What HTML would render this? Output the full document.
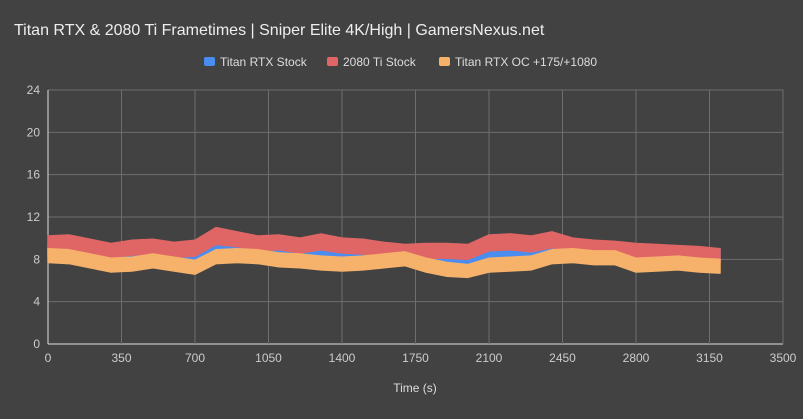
<!DOCTYPE html>
<html><head><meta charset="utf-8"><style>
body{margin:0;background:#424242;}
svg{display:block;font-family:"Liberation Sans",sans-serif;}
</style></head><body>
<svg id="chart" width="803" height="419">
<rect width="803" height="419" fill="#424242"/>
<text x="14" y="35" font-size="16" fill="#eeeeee">Titan RTX &amp; 2080 Ti Frametimes | Sniper Elite 4K/High | GamersNexus.net</text>
<g>
<g><rect x="204" y="57" width="11" height="9" rx="2" fill="#4a8df0"/><text x="220" y="66" font-size="12" fill="#dddddd">Titan RTX Stock</text></g>
<g><rect x="327" y="57" width="11" height="9" rx="2" fill="#e06666"/><text x="343" y="66" font-size="12" fill="#dddddd">2080 Ti Stock</text></g>
<g><rect x="439" y="57" width="11" height="9" rx="2" fill="#f6b26b"/><text x="455" y="66" font-size="12" fill="#dddddd">Titan RTX OC +175/+1080</text></g>
</g>
<g id="grid"></g><g id="marks"></g><g id="axes"></g>
<text x="415" y="392" font-size="12" fill="#dddddd" text-anchor="middle">Time (s)</text>
</svg>
<script>
const times=[0,100,200,300,400,500,600,700,800,900,1000,1100,1200,1300,1400,1500,1600,1700,1800,1900,2000,2100,2200,2300,2400,2500,2600,2700,2800,2900,3000,3100,3200];
const redHi=[10.2,10.3,9.9,9.5,9.8,9.9,9.6,9.8,11.0,10.6,10.2,10.3,10.0,10.4,10.0,9.9,9.6,9.4,9.5,9.5,9.4,10.3,10.4,10.2,10.6,10.0,9.8,9.7,9.5,9.4,9.3,9.2,9.0];
const redLo=[8.8,8.9,8.5,8.2,8.4,8.5,8.2,8.3,9.4,9.2,8.8,8.9,8.6,8.9,8.6,8.5,8.2,8.0,8.1,8.1,8.0,8.8,8.9,8.7,9.1,8.6,8.4,8.3,8.1,8.0,7.9,7.9,7.7];
const blueHi=[9.6,9.7,9.3,9.0,9.2,9.3,9.0,9.2,10.2,9.9,9.6,9.6,9.4,9.8,9.5,9.3,9.0,8.9,8.9,8.9,8.8,9.5,9.6,9.5,10.5,9.6,9.3,9.2,9.0,9.0,9.0,9.1,9.0];
const blueLo=[8.3,8.4,8.1,7.8,7.9,8.1,7.8,7.8,8.6,8.6,8.4,8.3,8.2,8.3,8.2,8.1,7.9,7.8,7.7,7.6,7.5,8.1,8.2,8.2,8.7,8.3,8.0,7.9,7.8,7.9,8.0,8.0,7.9];
const orangeHi=[9.0,8.9,8.5,8.1,8.2,8.5,8.2,7.9,8.9,9.0,8.9,8.6,8.5,8.3,8.2,8.3,8.5,8.7,8.1,7.7,7.5,8.1,8.2,8.3,8.9,9.0,8.8,8.8,8.1,8.2,8.3,8.1,8.0];
const orangeLo=[7.7,7.6,7.2,6.8,6.9,7.2,6.9,6.6,7.6,7.7,7.6,7.3,7.2,7.0,6.9,7.0,7.2,7.4,6.8,6.4,6.3,6.8,6.9,7.0,7.6,7.7,7.5,7.5,6.8,6.9,7.0,6.8,6.7];
const xTicks=[0,350,700,1050,1400,1750,2100,2450,2800,3150,3500];
const yTicks=[0,4,8,12,16,20,24];
const X0=48,X1=783,Y0=344,Y1=90;
const xs=v=>X0+(v/3500)*(X1-X0);
const ys=v=>Y0-(v/24)*(Y0-Y1);
const NS="http://www.w3.org/2000/svg";
const grid=document.getElementById('grid'),axes=document.getElementById('axes'),marks=document.getElementById('marks');
function mk(tag,attrs,parent){const e=document.createElementNS(NS,tag);for(const k in attrs)e.setAttribute(k,attrs[k]);parent.appendChild(e);return e;}
yTicks.forEach(t=>{
 const l=mk('line',{x1:X0,x2:X1,y1:ys(t),y2:ys(t),stroke:t===0?'#dddddd':'#6e6e6e','stroke-width':1},grid);
 
 
 const tx=mk('text',{x:X0-8,y:ys(t)+4,'font-size':12,fill:'#cccccc','text-anchor':'end'},axes);
 tx.textContent=t;
 
 
});
xTicks.forEach(t=>{
 const l=mk('line',{x1:xs(t),x2:xs(t),y1:Y1,y2:Y0,stroke:t===0?'#dddddd':'#6e6e6e','stroke-width':1},grid);
 
 
 const tx=mk('text',{x:xs(t),y:Y0+18,'font-size':12,fill:'#cccccc','text-anchor':'middle'},axes);
 tx.textContent=t;
 
 
});
function band(hi,lo,color,name){
 let pts=[];
 times.forEach((t,i)=>pts.push(xs(t)+','+ys(hi[i])));
 for(let i=times.length-1;i>=0;i--)pts.push(xs(times[i])+','+ys(lo[i]));
 const p=mk('polygon',{points:pts.join(' '),fill:color,stroke:color,'stroke-width':1.5,'stroke-linejoin':'round'},marks);
 
 
}
band(blueHi,blueLo,'#4a8df0','series-titan-stock');
band(redHi,redLo,'#e06666','series-2080ti-stock');
band(orangeHi,orangeLo,'#f6b26b','series-titan-oc');
</script>
</body></html>
